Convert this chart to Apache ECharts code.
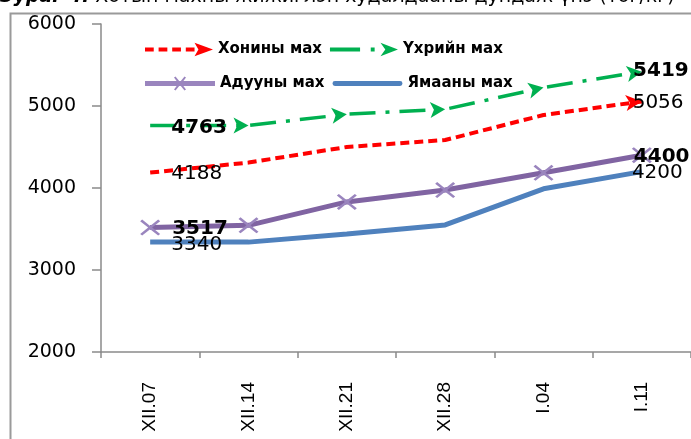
<!DOCTYPE html>
<html><head><meta charset="utf-8">
<script src="https://cdn.jsdelivr.net/npm/echarts@6/dist/echarts.min.js"></script>
<style>html,body{margin:0;padding:0;background:#fff}#c{width:691px;height:439px}</style>
</head><body><div id="c"></div>
<script>
var categories = ['XII.07','XII.14','XII.21','XII.28','I.04','I.11'];
var yTicks = [2000, 3000, 4000, 5000, 6000];
var names = ['Хонины мах','Үхрийн мах','Адууны мах','Ямааны мах'];
var sheep = [4188, 4310, 4500, 4585, 4890, 5056];
var beef  = [4763, 4763, 4900, 4960, 5225, 5419];
var horse = [3517, 3545, 3830, 3975, 4185, 4400];
var goat  = [3340, 3340, 3440, 3550, 3990, 4200];
var titleText = 'Хотын махны жижиглэн худалдааны дундаж үнэ (төг/кг)';

var FONT = 'DejaVu Sans';

function withLabels(arr, boldFirst, boldLast, dyFirst, dyLast, distFirst, distLast){
  return arr.map(function(v,i){
    var it = {value:v};
    if(i===0){ it.label = {show:true, position:'right', distance:distFirst, offset:[0,dyFirst], fontFamily:FONT, fontSize:20, color:'#000', fontWeight: boldFirst?'bold':'normal'}; }
    if(i===arr.length-1){ it.label = {show:true, position:'right', distance:distLast, offset:[0,dyLast], fontFamily:FONT, fontSize:20, color:'#000', fontWeight: boldLast?'bold':'normal'}; }
    return it;
  });
}

// legend icon paths (70 x 14 box)
var iconRed = 'path://M0,0L0.01,0L0.01,0.01ZM0,5L9,5L9,9L0,9ZM14,5L23,5L23,9L14,9ZM28,5L37,5L37,9L28,9ZM42,5L51,5L51,9L42,9ZM51,0L70,7L51,14L55,7Z';
var iconGreen = 'path://M0,5L31,5L31,9L0,9ZM42,5L46,5L46,9L42,9ZM52,0L70,7L52,14L57,7Z';
var iconPurple = 'path://M0,4.5L70,4.5L70,9.5L0,9.5ZM29,1L30.5,0L35,5.5L39.5,0L41,1L36.5,7L41,13L39.5,14L35,8.5L30.5,14L29,13L33.5,7Z';
var iconBlue = 'path://M0,0L0.01,0L0.01,0.01ZM0,13.99L0.01,13.99L0.01,14ZM2,4.5L68,4.5Q70.5,4.5 70.5,7Q70.5,9.5 68,9.5L2,9.5Q-0.5,9.5 -0.5,7Q-0.5,4.5 2,4.5Z';
var xMark = 'path://M0,1L1,0L5,4L9,0L10,1L6,5L10,9L9,10L5,6L1,10L0,9L4,5Z';

var sheepData = withLabels(sheep, false, false, 1, 1, 21, -10);
sheepData[sheepData.length-1].symbol = 'arrow';
sheepData[sheepData.length-1].symbolSize = [12,16];
sheepData[sheepData.length-1].symbolRotate = -84;

var beefData = withLabels(beef, true, true, 2, -2, 21, -10);
var beefRot = [0, -90, -84, -87, -78, -81];
beefData.forEach(function(d,i){
  if(i===0){ d.symbolSize = 0.1; d.symbol='circle'; }
  else { d.symbol='arrow'; d.symbolSize=[12,15]; d.symbolRotate=beefRot[i]; }
});

var horseData = withLabels(horse, true, true, 1, 2, 12, -18);
var goatData = withLabels(goat, false, false, 3, 1, 21, -10);

var chart = echarts.init(document.getElementById('c'), null, {renderer:'canvas'});
chart.setOption({
  animation:false,
  backgroundColor:'#fff',
  textStyle:{fontFamily:FONT},
  grid:{left:101, top:24, width:597, height:328, containLabel:false},
  xAxis:{type:'category', data:categories, boundaryGap:true,
    axisLine:{lineStyle:{color:'#8a8a8a', width:1.5}},
    axisTick:{show:true, length:6, lineStyle:{color:'#8a8a8a', width:1.5}},
    axisLabel:{rotate:90, margin:30, fontFamily:'Liberation Sans', fontSize:19, color:'#000'},
    splitLine:{show:false}},
  yAxis:{type:'value', min:yTicks[0], max:yTicks[yTicks.length-1], interval:1000,
    axisLine:{show:true, lineStyle:{color:'#8a8a8a', width:1.5}},
    axisTick:{show:true, length:9, lineStyle:{color:'#8a8a8a', width:1.5}},
    axisLabel:{margin:25, fontFamily:FONT, fontSize:19, color:'#000', formatter:function(v){return String(v);}},
    splitLine:{show:false}},
  legend:[
    {left:140, top:37, itemWidth:68, itemHeight:14, itemGap:8, selectedMode:false,
     textStyle:{fontFamily:FONT, fontSize:15, fontWeight:'bold', color:'#000', width:150},
     data:[{name:names[0], icon:iconRed},{name:names[1], icon:iconGreen}]},
    {left:140, top:71, itemWidth:70, itemHeight:14, itemGap:8, selectedMode:false,
     textStyle:{fontFamily:FONT, fontSize:15, fontWeight:'bold', color:'#000', width:150},
     data:[{name:names[2], icon:iconPurple},{name:names[3], icon:iconBlue}]}
  ],
  graphic:[
    {type:'rect', left:8, top:11, shape:{width:900, height:600}, style:{fill:'none', stroke:'#9a9a9a', lineWidth:2}, silent:true, z:-1},
    {type:'text', left:0, top:-12, style:{
      text:'{b|Зураг 4.} ' + titleText,
      rich:{b:{fontStyle:'italic', fontWeight:'bold', fontSize:19, fontFamily:FONT, fill:'#000'}},
      fontFamily:FONT, fontSize:19, fill:'#000'}}
  ],
  series:[
    {name:names[0], type:'line', data:sheepData, symbol:'circle', symbolSize:0.1, showSymbol:true,
     color:'#FF0000', lineStyle:{width:4, type:[9,5], color:'#FF0000'}, itemStyle:{color:'#FF0000'}, z:3},
    {name:names[1], type:'line', data:beefData, symbol:'circle', symbolSize:0.1, showSymbol:true,
     color:'#00B050', lineStyle:{width:3.5, type:[26,10,4,10], color:'#00B050'}, itemStyle:{color:'#00B050'}, z:4},
    {name:names[2], type:'line', data:horseData, symbol:xMark, symbolSize:[20,16], showSymbol:true,
     color:'#8064A2', lineStyle:{width:5, color:'#8064A2'}, itemStyle:{color:'#9A85BE'}, z:2},
    {name:names[3], type:'line', data:goatData, symbol:'circle', symbolSize:0.1, showSymbol:true,
     color:'#4F81BD', lineStyle:{width:5, color:'#4F81BD'}, itemStyle:{color:'#4F81BD'}, z:1}
  ]
});
</script></body></html>
